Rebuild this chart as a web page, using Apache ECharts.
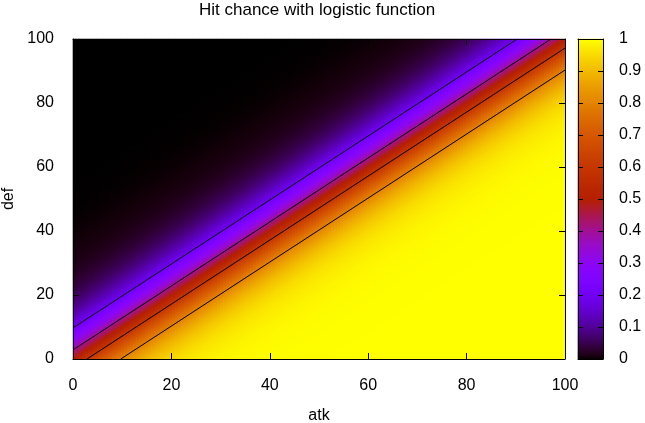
<!DOCTYPE html>
<html>
<head>
<meta charset="utf-8">
<script src="https://cdn.jsdelivr.net/npm/echarts@6/dist/echarts.min.js"></script>
<style>
html,body{margin:0;padding:0;background:#fff;}
#chart{width:645px;height:423px;}
</style>
</head>
<body>
<div id="chart"></div>
<script>
// ---- data ----
const titleText = 'Hit chance with logistic function';
const xName = 'atk';
const yName = 'def';
const atkRange = [0, 100];
const defRange = [0, 100];
const atkSamples = 164;            // grid cells along atk
const defSamples = 160;            // grid cells along def
const logisticScale = 7;           // hit = 1 / (1 + exp(-(atk - def) / 7))
const contourLevels = [0.2, 0.4, 0.6, 0.8];
const xTicks = [0, 20, 40, 60, 80, 100];
const yTicks = [0, 20, 40, 60, 80, 100];
const cbTicks = [0, 0.1, 0.2, 0.3, 0.4, 0.5, 0.6, 0.7, 0.8, 0.9, 1];
const cbSamples = 320;

// ---- derived ----
function hit(a, d) { return 1 / (1 + Math.exp(-(a - d) / logisticScale)); }
const stepA = (atkRange[1] - atkRange[0]) / atkSamples;
const stepD = (defRange[1] - defRange[0]) / defSamples;
const atkCenters = [], defCenters = [];
for (let i = 0; i < atkSamples; i++) atkCenters.push(atkRange[0] + (i + 0.5) * stepA);
for (let j = 0; j < defSamples; j++) defCenters.push(defRange[0] + (j + 0.5) * stepD);
const heatData = [];
for (let i = 0; i < atkSamples; i++) {
  for (let j = 0; j < defSamples; j++) {
    heatData.push([i, j, hit(atkCenters[i], defCenters[j])]);
  }
}
const cbCats = [], cbData = [];
for (let k = 0; k < cbSamples; k++) {
  cbCats.push(String(k));
  cbData.push([0, k, (k + 0.5) / cbSamples]);
}
// gnuplot rgbformulae 7,5,15
function pal(x) {
  const r = Math.sqrt(x), g = x * x * x, b = Math.max(0, Math.sin(2 * Math.PI * x));
  const h = v => Math.round(Math.min(1, Math.max(0, v)) * 255).toString(16).padStart(2, '0');
  return '#' + h(r) + h(g) + h(b);
}
const palStops = [];
for (let k = 0; k <= 200; k++) palStops.push(pal(k / 200));

// contour lines: def = atk - s*ln(p/(1-p)), clipped to the box
const contourSeries = contourLevels.map(p => {
  const d = logisticScale * Math.log(p / (1 - p));
  const a0 = Math.max(atkRange[0], defRange[0] + d);
  const a1 = Math.min(atkRange[1], defRange[1] + d);
  return {
    type: 'line', xAxisIndex: 1, yAxisIndex: 1,
    data: [[a0, a0 - d], [a1, a1 - d]],
    symbol: 'none', silent: true, z: 5,
    lineStyle: { color: '#000', width: 1 }
  };
});

const FONT = 'Liberation Sans';
const FS = 16;
const black = { color: '#000', width: 1 };
function frameAxis(grid, pos, opts) {
  return Object.assign({
    gridIndex: grid, type: 'value', position: pos, z: 10,
    axisLine: { show: true, onZero: false, lineStyle: black },
    axisTick: { show: false },
    axisLabel: { show: false },
    splitLine: { show: false }
  }, opts);
}
function gridBox(left, top, width, height) {
  return { left, top, width, height, containLabel: false, outerBoundsMode: 'none' };
}

const option = {
  animation: false,
  backgroundColor: '#fff',
  textStyle: { fontFamily: FONT },
  title: {
    text: titleText, left: 199, top: 0, padding: [2, 0, 0, 0],
    textStyle: { fontFamily: FONT, fontSize: 17, fontWeight: 'normal', color: '#000' }
  },
  grid: [
    gridBox(73, 39, 492, 320),
    gridBox(73, 39, 492, 320),
    gridBox(578, 39, 25, 320),
    gridBox(578, 39, 25, 320)
  ],
  visualMap: {
    type: 'continuous', min: 0, max: 1, seriesIndex: [0, 1], show: false,
    inRange: { color: palStops }
  },
  xAxis: [
    { gridIndex: 0, type: 'category', data: atkCenters, show: false },
    frameAxis(1, 'bottom', {
      min: atkRange[0], max: atkRange[1], interval: xTicks[1] - xTicks[0],
      axisTick: { show: true, inside: true, length: 6, lineStyle: black },
      axisLabel: { show: true, color: '#000', fontSize: FS, fontFamily: FONT, margin: 19 },
      name: xName, nameLocation: 'middle', nameGap: 49,
      nameTextStyle: { color: '#000', fontSize: FS, fontFamily: FONT }
    }),
    frameAxis(1, 'top', {
      min: atkRange[0], max: atkRange[1], interval: xTicks[1] - xTicks[0],
      axisTick: { show: true, inside: true, length: 6, lineStyle: black }
    }),
    { gridIndex: 2, type: 'category', data: ['cb'], show: false },
    frameAxis(3, 'bottom', { min: 0, max: 1 }),
    frameAxis(3, 'top', { min: 0, max: 1 })
  ],
  yAxis: [
    { gridIndex: 0, type: 'category', data: defCenters, show: false },
    frameAxis(1, 'left', {
      min: defRange[0], max: defRange[1], interval: yTicks[1] - yTicks[0],
      axisTick: { show: true, inside: true, length: 6, lineStyle: black },
      axisLabel: { show: true, color: '#000', fontSize: FS, fontFamily: FONT, margin: 19, padding: [4, 0, 0, 0] },
      name: yName, nameLocation: 'middle', nameGap: 54,
      nameTextStyle: { color: '#000', fontSize: FS, fontFamily: FONT }
    }),
    frameAxis(1, 'right', {
      min: defRange[0], max: defRange[1], interval: yTicks[1] - yTicks[0],
      axisTick: { show: true, inside: true, length: 6, lineStyle: black }
    }),
    { gridIndex: 2, type: 'category', data: cbCats, show: false },
    frameAxis(3, 'right', {
      min: cbTicks[0], max: cbTicks[cbTicks.length - 1], interval: 0.1,
      axisTick: { show: true, inside: true, length: 5, lineStyle: black },
      axisLabel: { show: true, color: '#000', fontSize: FS, fontFamily: FONT, margin: 16, padding: [4, 0, 0, 0] }
    }),
    frameAxis(3, 'left', {
      min: cbTicks[0], max: cbTicks[cbTicks.length - 1], interval: 0.1,
      axisTick: { show: true, inside: true, length: 5, lineStyle: black }
    })
  ],
  series: [
    { type: 'heatmap', xAxisIndex: 0, yAxisIndex: 0, data: heatData, progressive: 0, silent: true, z: 1 },
    { type: 'heatmap', xAxisIndex: 3, yAxisIndex: 3, data: cbData, progressive: 0, silent: true, z: 1 }
  ].concat(contourSeries)
};

const chart = echarts.init(document.getElementById('chart'), null, { renderer: 'canvas' });
chart.setOption(option);
</script>
</body>
</html>
